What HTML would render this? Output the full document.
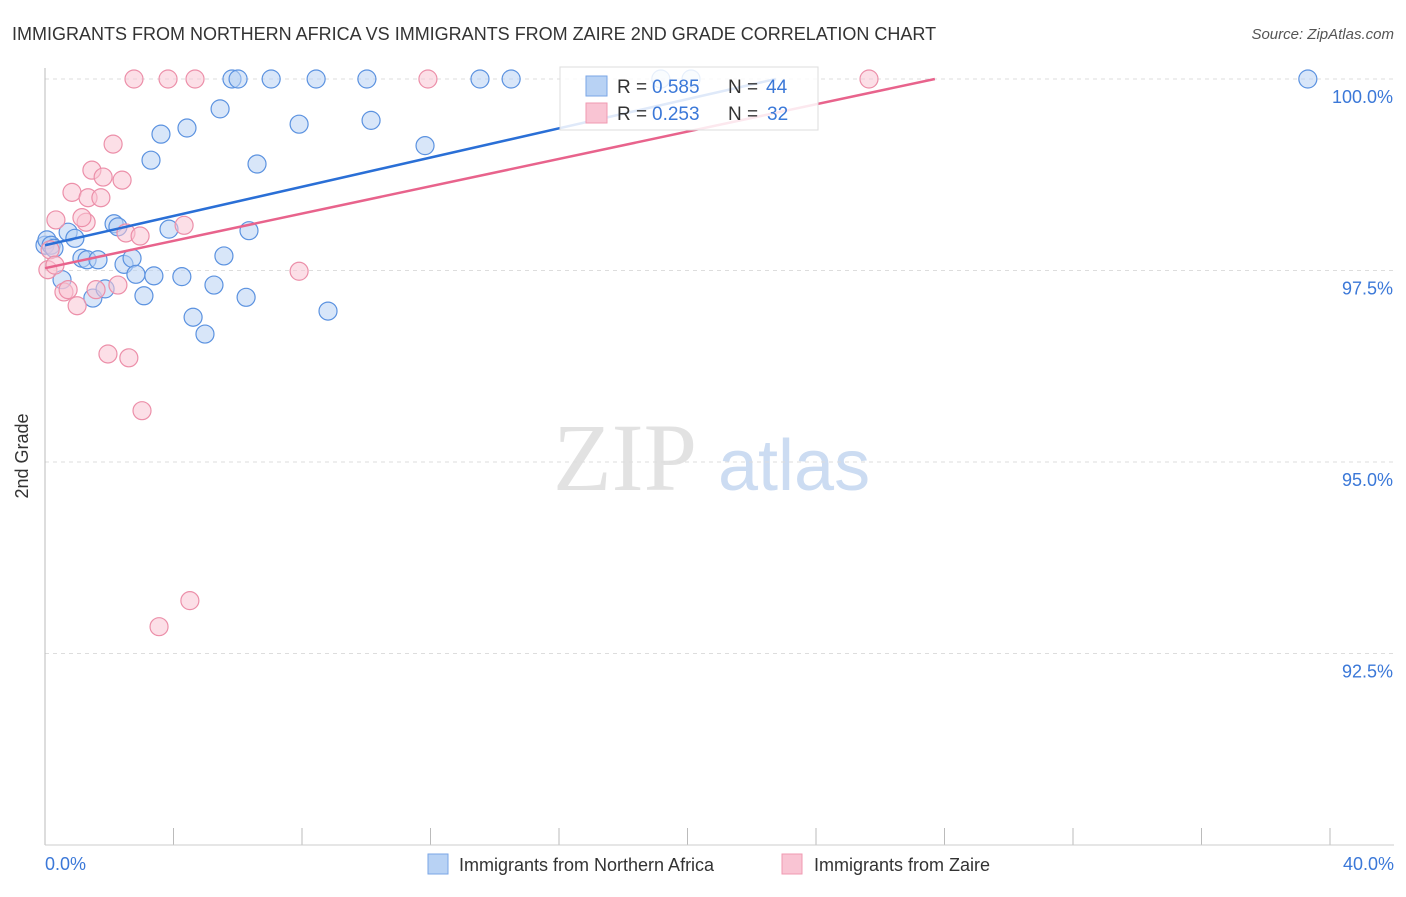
<!DOCTYPE html>
<html><head><meta charset="utf-8"><style>
body{margin:0;background:#fff;font-family:"Liberation Sans",sans-serif}
svg text{font-family:"Liberation Sans",sans-serif}
</style></head><body>
<svg width="1406" height="892" xmlns="http://www.w3.org/2000/svg">
<text x="12" y="40" font-size="18" fill="#333">IMMIGRANTS FROM NORTHERN AFRICA VS IMMIGRANTS FROM ZAIRE 2ND GRADE CORRELATION CHART</text>
<text x="1394" y="39" font-size="15" fill="#555" font-style="italic" text-anchor="end">Source: ZipAtlas.com</text>
<text x="553" y="490" font-size="96" fill="#e2e2e2" style="font-family:'Liberation Serif',serif">ZIP</text>
<text x="718" y="490" font-size="72" fill="#ccdcf2">atlas</text>
<g id="grid"></g>
<line x1="45" y1="68" x2="45" y2="845" stroke="#bbb"/>
<line x1="45" y1="845" x2="1394" y2="845" stroke="#ccc"/>
<text x="28" y="456" font-size="18" fill="#333" transform="rotate(-90 28 456)" text-anchor="middle">2nd Grade</text>
<text x="45" y="870" font-size="18" fill="#3b78d8">0.0%</text>
<text x="1394" y="870" font-size="18" fill="#3b78d8" text-anchor="end">40.0%</text>
<g id="pts"></g>
<g id="lines"></g>
<g>
<rect x="560" y="67" width="258" height="63" fill="#fff" fill-opacity="0.85" stroke="#ddd"/>
<rect x="586" y="76" width="21" height="20" fill="#b8d2f4" stroke="#7aa6e6"/>
<rect x="586" y="103" width="21" height="20" fill="#f9c4d3" stroke="#f09ab2"/>
<text x="617" y="93" font-size="19" fill="#333">R =</text>
<text x="652" y="93" font-size="19" fill="#3b78d8">0.585</text>
<text x="728" y="93" font-size="19" fill="#333">N =</text>
<text x="766" y="93" font-size="19" fill="#3b78d8">44</text>
<text x="617" y="120" font-size="19" fill="#333">R =</text>
<text x="652" y="120" font-size="19" fill="#3b78d8">0.253</text>
<text x="728" y="120" font-size="19" fill="#333">N =</text>
<text x="767" y="120" font-size="19" fill="#3b78d8">32</text>
</g>
<g>
<rect x="428" y="854" width="20" height="20" fill="#b8d2f4" stroke="#7aa6e6"/>
<text x="459" y="871" font-size="18" fill="#333">Immigrants from Northern Africa</text>
<rect x="782" y="854" width="20" height="20" fill="#f9c4d3" stroke="#f09ab2"/>
<text x="814" y="871" font-size="18" fill="#333">Immigrants from Zaire</text>
</g>
</svg>
<script>
const yTicks=[100,97.5,95,92.5];
const yTickLabels=["100.0%","97.5%","95.0%","92.5%"];
const xTicks=[0,4,8,12,16,20,24,28,32,36,40];
const blueX=[0,0.06,0.19,0.28,0.72,0.93,0.53,1.15,1.31,1.49,1.65,1.87,2.15,2.27,2.46,2.71,2.83,3.08,3.30,3.39,3.61,3.86,4.26,4.42,4.61,4.98,5.26,5.45,5.57,5.82,6.01,6.26,6.35,6.60,7.04,7.91,8.44,8.81,10.02,10.15,11.83,13.54,14.51,19.17,20.11,39.31];
const blueY=[97.83,97.9,97.83,97.79,98.00,97.92,97.38,97.66,97.64,97.14,97.64,97.26,98.11,98.07,97.58,97.66,97.45,97.17,98.94,97.43,99.28,98.04,97.42,99.36,96.89,96.67,97.31,99.61,97.69,100,100,97.15,98.02,98.89,100,99.41,100,96.97,100,99.46,99.13,100,100,100,100,100];
const pinkX=[0.09,0.16,0.34,0.59,0.72,0.84,1.00,1.28,1.34,1.46,1.74,1.81,1.96,2.12,2.27,2.40,2.52,2.61,2.77,2.96,3.02,3.55,3.83,4.33,4.51,4.67,7.91,11.92,25.65,1.15,1.59,0.31];
const pinkY=[97.51,97.77,98.16,97.22,97.25,98.52,97.04,98.13,98.45,98.81,98.45,98.72,96.41,99.15,97.31,98.68,97.99,96.36,100,97.95,95.67,92.85,100,98.09,93.19,100,97.49,100,100,98.19,97.25,97.57];
const blueTrend=[[0,97.83],[22.75,100]];
const pinkTrend=[[0,97.53],[27.7,100]];
const NS="http://www.w3.org/2000/svg";
const sx=v=>45+v/40*1285;
const sy=v=>79+(100-v)/2.5*191.5;
const grid=document.getElementById('grid');
yTicks.forEach((t,i)=>{
 const l=document.createElementNS(NS,'line');
 l.setAttribute('x1',45);l.setAttribute('x2',1394);l.setAttribute('y1',sy(t));l.setAttribute('y2',sy(t));
 l.setAttribute('stroke','#ddd');l.setAttribute('stroke-dasharray','4 4');
 
 
 grid.appendChild(l);
 const tx=document.createElementNS(NS,'text');
 tx.setAttribute('x',1393);tx.setAttribute('y',sy(t)+24);tx.setAttribute('text-anchor','end');
 tx.setAttribute('font-size','18');tx.setAttribute('fill','#3b78d8');tx.textContent=yTickLabels[i];
 
 
 grid.appendChild(tx);
});
xTicks.forEach(t=>{
 const l=document.createElementNS(NS,'line');
 l.setAttribute('x1',sx(t));l.setAttribute('x2',sx(t));l.setAttribute('y1',828);l.setAttribute('y2',845);
 l.setAttribute('stroke','#bbb');
 
 
 grid.appendChild(l);
});
const pts=document.getElementById('pts');
function dot(x,y,fill,stroke,name){
 const c=document.createElementNS(NS,'circle');
 c.setAttribute('cx',sx(x));c.setAttribute('cy',sy(y));c.setAttribute('r',9);
 c.setAttribute('fill',fill);c.setAttribute('fill-opacity','0.55');c.setAttribute('stroke',stroke);c.setAttribute('stroke-width','1.2');
 
 
 pts.appendChild(c);
}
blueX.forEach((x,i)=>dot(x,blueY[i],'#b8d2f4','#5b92e0','northern-africa-point'));
pinkX.forEach((x,i)=>dot(x,pinkY[i],'#f9c4d3','#ec8fa9','zaire-point'));
const lines=document.getElementById('lines');
function trend(p,color,name){
 const l=document.createElementNS(NS,'line');
 l.setAttribute('x1',sx(p[0][0]));l.setAttribute('y1',sy(p[0][1]));l.setAttribute('x2',sx(p[1][0]));l.setAttribute('y2',sy(p[1][1]));
 l.setAttribute('stroke',color);l.setAttribute('stroke-width','2.5');
 
 
 lines.appendChild(l);
}
trend(blueTrend,'#2a6fd6','northern-africa-trendline');
trend(pinkTrend,'#e8638c','zaire-trendline');
</script>
</body></html>
